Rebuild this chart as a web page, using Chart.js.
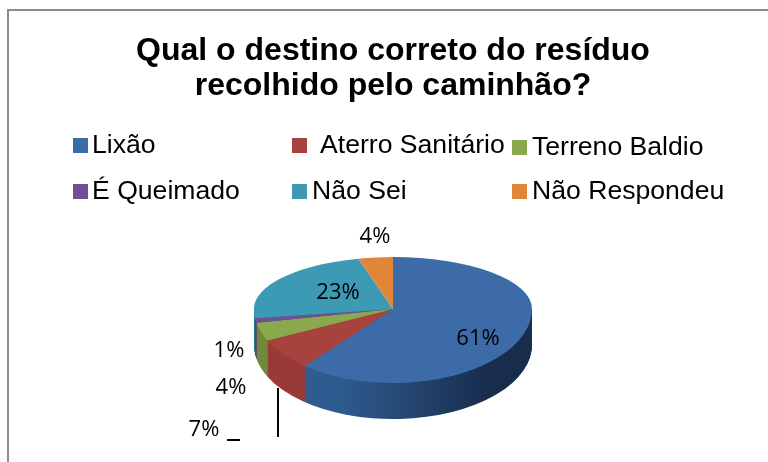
<!DOCTYPE html>
<html><head><meta charset="utf-8">
<style>html,body{margin:0;padding:0;background:#fff}canvas{display:block}</style>
<script src="https://cdn.jsdelivr.net/npm/chart.js@4/dist/chart.umd.min.js"></script>
</head><body><canvas id="c" width="768" height="462"></canvas>
<script>
const categories = ["Lixão","Aterro Sanitário","Terreno Baldio","É Queimado","Não Sei","Não Respondeu"];
const shares = [61,7,4,1,23,4];
const topColours = ["#3c6ba8","#a8423e","#8aa84c","#6f5096","#3c9ab4","#e0853a"];
const sideLeft = ["#2f5c90","#9a3a36","#6f8a3a","#553a78","#2b7a90","#b5692b"];
const sideRight = ["#182c4c","#6e2825","#55692c","#402b5c","#1f5c6d","#8a5020"];
const labelSpots = [[478,339],[204,430],[231,388],[229,351],[338,293],[375,237]];
const pctText = ["61%","7%","4%","1%","23%","4%"];
const legendSpots = [[73,138,92],[292,138,320],[512,140,532],[73,184,92],[292,184,312],[512,184,532]];

const UP = 52/139, DOWN = 74/139, DEPTH = 36;

function drawEl(el, ctx, colour){
  const proxy = Object.create(el);
  proxy.options = Object.assign({}, el.options, {backgroundColor: colour, borderWidth: 0});
  el.draw.call(proxy, ctx);
}
const pie3d = {
  id:"pie3d",
  beforeDatasetDraw(chart){
    const ctx = chart.ctx, els = chart.getDatasetMeta(0).data;
    const cx = els[0].x, cy = els[0].y, W = chart.width, H = chart.height;
    const half = (scale, yMin, yMax, dy, paint) => {
      ctx.save();
      ctx.beginPath(); ctx.rect(0, yMin, W, yMax-yMin); ctx.clip();
      ctx.translate(cx, cy+dy); ctx.scale(1, scale); ctx.translate(-cx, -cy);
      paint(); ctx.restore();
    };
    // side wall
    for(let d=DEPTH; d>=1; d--){
      half(DOWN, cy+d-1, H, d, () => {
        els.forEach((el,i) => {
          const g = ctx.createLinearGradient(cx-139,0,cx+139,0);
          g.addColorStop(0, sideLeft[i]); g.addColorStop(.3, sideLeft[i]); g.addColorStop(.85, sideRight[i]);
          drawEl(el, ctx, g);
        });
      });
    }
    // top face
    half(UP, 0, cy, 0, () => els.forEach((el,i) => drawEl(el, ctx, topColours[i])));
    half(DOWN, cy, H, 0, () => els.forEach((el,i) => drawEl(el, ctx, topColours[i])));
    return false;
  },
  afterDraw(chart){
    const ctx = chart.ctx;
    ctx.save();
    // frame
    ctx.strokeStyle = "#8c8c8c"; ctx.lineWidth = 2;
    ctx.beginPath(); ctx.moveTo(8,462); ctx.lineTo(8,10); ctx.lineTo(768,10); ctx.stroke();
    // legend
    ctx.textBaseline = "alphabetic"; ctx.textAlign = "left";
    ctx.font = '26.6px "Liberation Sans"';
    categories.forEach((t,i) => {
      const [x,y,tx] = legendSpots[i];
      ctx.fillStyle = topColours[i]; ctx.fillRect(x,y,15,15);
      ctx.fillStyle = "#000"; ctx.fillText(t, tx, y+15);
    });
    // value labels
    ctx.font = '22px "Open Sans"'; ctx.textAlign = "center"; ctx.textBaseline = "middle";
    ctx.fillStyle = "#000";
    shares.forEach((v,i) => {
      const p = labelSpots[i];
      ctx.fillText(pctText[i], p[0], p[1]);
    });
    // leader marks
    ctx.strokeStyle = "#000"; ctx.lineWidth = 2;
    ctx.beginPath(); ctx.moveTo(278,388); ctx.lineTo(278,437); ctx.moveTo(227,440); ctx.lineTo(240,440); ctx.stroke();
    ctx.restore();
  }
};
new Chart(document.getElementById("c"),{
  type:"pie",
  plugins:[pie3d],
  data:{labels:categories,datasets:[{data:shares,backgroundColor:topColours,borderWidth:0,radius:139}]},
  options:{
    responsive:false,animation:false,
    layout:{padding:{left:18,right:0,top:0,bottom:0}},
    plugins:{
      legend:{display:false},tooltip:{enabled:false},
      title:{display:true,text:["Qual o destino correto do resíduo","recolhido pelo caminhão?"],color:"#000",
        font:{family:'"Liberation Sans"',size:32,weight:"bold",lineHeight:35/32},
        padding:{top:34,bottom:52}}
    }
  }
});
</script></body></html>
